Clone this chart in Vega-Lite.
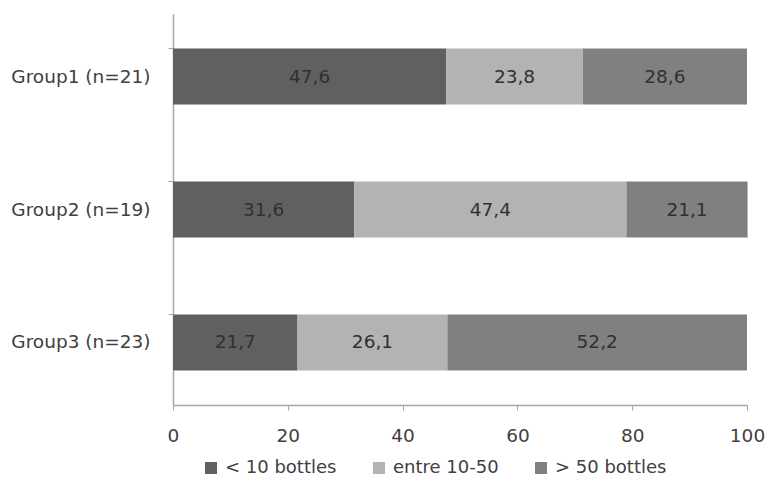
{
  "$schema": "https://vega.github.io/schema/vega-lite/v6.json",
  "width": 574,
  "height": 391,
  "autosize": "none",
  "padding": {"left": 173, "top": 14, "right": 19, "bottom": 79},
  "config": {
    "font": "DejaVu Sans",
    "view": {"stroke": null},
    "locale": {"number": {"decimal": ",", "thousands": ".", "grouping": [3], "currency": ["", " €"]}}
  },
  "data": {
    "values": [
      {"group": "Group1 (n=21)", "cat": "< 10 bottles", "k": 1, "v": 47.6},
      {"group": "Group1 (n=21)", "cat": "entre 10-50", "k": 2, "v": 23.8},
      {"group": "Group1 (n=21)", "cat": "> 50 bottles", "k": 3, "v": 28.6},
      {"group": "Group2 (n=19)", "cat": "< 10 bottles", "k": 1, "v": 31.6},
      {"group": "Group2 (n=19)", "cat": "entre 10-50", "k": 2, "v": 47.4},
      {"group": "Group2 (n=19)", "cat": "> 50 bottles", "k": 3, "v": 21.1},
      {"group": "Group3 (n=23)", "cat": "< 10 bottles", "k": 1, "v": 21.7},
      {"group": "Group3 (n=23)", "cat": "entre 10-50", "k": 2, "v": 26.1},
      {"group": "Group3 (n=23)", "cat": "> 50 bottles", "k": 3, "v": 52.2}
    ]
  },
  "encoding": {
    "y": {
      "field": "group", "type": "nominal", "title": null,
      "scale": {"paddingInner": 0.58, "paddingOuter": 0.26},
      "axis": {
        "bandPosition": 0, "grid": false, "domainColor": "#a6a6a6", "tickColor": "#a6a6a6",
        "tickSize": 5, "labelFontSize": 18.5, "labelColor": "#404040", "labelPadding": 18,
        "domainWidth": 1.5
      }
    },
    "x": {
      "field": "v", "type": "quantitative", "stack": "zero", "title": null,
      "scale": {"domain": [0, 100], "nice": false},
      "axis": {
        "values": [0, 20, 40, 60, 80, 100], "grid": false, "domainColor": "#a6a6a6",
        "tickColor": "#a6a6a6", "tickSize": 5, "labelFontSize": 18.5, "labelColor": "#404040",
        "labelPadding": 16, "format": "d", "domainWidth": 1.5,
        "labelFlush": false
      }
    },
    "order": {"field": "k", "type": "quantitative"}
  },
  "layer": [
    {
      "mark": {"type": "bar"},
      "encoding": {
        "color": {
          "field": "cat", "type": "nominal", "title": null,
          "scale": {"domain": ["< 10 bottles", "entre 10-50", "> 50 bottles"], "range": ["#606060", "#b3b3b3", "#808080"]},
          "legend": {
            "orient": "none", "direction": "horizontal", "legendX": 29, "legendY": 445,
            "symbolType": "square", "symbolSize": 144, "symbolStrokeWidth": 0,
            "labelFontSize": 18, "labelColor": "#404040", "columnPadding": 33, "symbolOffset": 0, "labelOffset": 5
          }
        }
      }
    },
    {
      "mark": {"type": "text", "fontSize": 18.5, "color": "#303030"},
      "encoding": {
        "x": {"field": "v", "type": "quantitative", "stack": "zero", "bandPosition": 0.5},
        "text": {"field": "v", "type": "quantitative", "format": ".1f"},
        "detail": {"field": "cat"}
      }
    }
  ]
}
